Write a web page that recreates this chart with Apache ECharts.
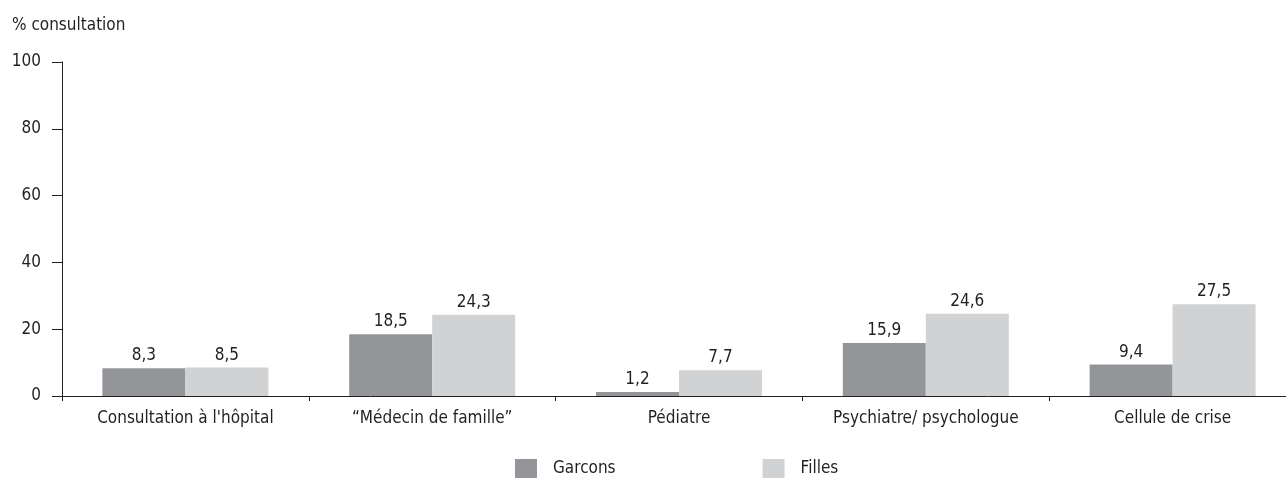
<!DOCTYPE html>
<html>
<head>
<meta charset="utf-8">
<script src="https://cdn.jsdelivr.net/npm/echarts@6/dist/echarts.min.js"></script>
<style>
  html, body { margin: 0; padding: 0; background: #fff; overflow: hidden; }
  /* un peu plus large que la fenêtre : la dernière catégorie déborde à droite */
  #chart { width: 1300px; height: 479px; }
</style>
</head>
<body>
<div id="chart"></div>
<script>
const categories = ["Consultation à l'hôpital", '\u201cMédecin de famille\u201d', 'Pédiatre', 'Psychiatre/ psychologue', 'Cellule de crise'];
const garcons = [8.3, 18.5, 1.2, 15.9, 9.4];
const filles = [8.5, 24.3, 7.7, 24.6, 27.5];
const yTicks = [0, 20, 40, 60, 80, 100];

const font = '"DejaVu Sans Condensed", "Liberation Sans Narrow", Arial, sans-serif';
const ink = '#231f20';

// valeurs avec virgule décimale
const fmt = (p) => p.value.toFixed(1).replace('.', ',');

let myChart = echarts.init(document.getElementById('chart'));
myChart.setOption({
  animation: false,
  textStyle: { fontFamily: font, color: ink },
  title: {
    text: '% consultation',
    left: 12,
    top: 17,
    padding: 0,
    textStyle: { fontFamily: font, fontSize: 17, fontWeight: 'normal', color: ink }
  },
  grid: { left: 62, top: 62, width: 1234, height: 334 },
  legend: {
    left: 515,
    top: 459,
    padding: 0,
    itemWidth: 22,
    itemHeight: 19,
    itemGap: 147,
    icon: 'rect',
    textStyle: { fontFamily: font, fontSize: 17, color: ink, padding: [3, 0, 0, 11] },
    data: ['Garcons', 'Filles']
  },
  xAxis: {
    type: 'category',
    data: categories,
    axisLine: { lineStyle: { color: ink, width: 1 } },
    axisTick: { show: true, length: 5, lineStyle: { color: ink } },
    axisLabel: { fontFamily: font, fontSize: 17, color: ink, margin: 14, interval: 0 }
  },
  yAxis: {
    type: 'value',
    min: yTicks[0],
    max: yTicks[yTicks.length - 1],
    interval: 20,
    splitLine: { show: false },
    axisLine: { show: true, lineStyle: { color: ink, width: 1 } },
    axisTick: { show: true, length: 10, lineStyle: { color: ink } },
    axisLabel: { fontFamily: font, fontSize: 17, color: ink, margin: 21 }
  },
  series: [
    {
      name: 'Garcons',
      type: 'bar',
      barWidth: 83,
      barGap: '0%',
      itemStyle: { color: '#939598' },
      label: { show: true, position: 'top', distance: 4, fontFamily: font, fontSize: 17, color: ink, formatter: fmt },
      data: garcons
    },
    {
      name: 'Filles',
      type: 'bar',
      barWidth: 83,
      barGap: '0%',
      itemStyle: { color: '#d1d2d4' },
      label: { show: true, position: 'top', distance: 4, fontFamily: font, fontSize: 17, color: ink, formatter: fmt },
      data: filles
    }
  ]
});
</script>
</body>
</html>
